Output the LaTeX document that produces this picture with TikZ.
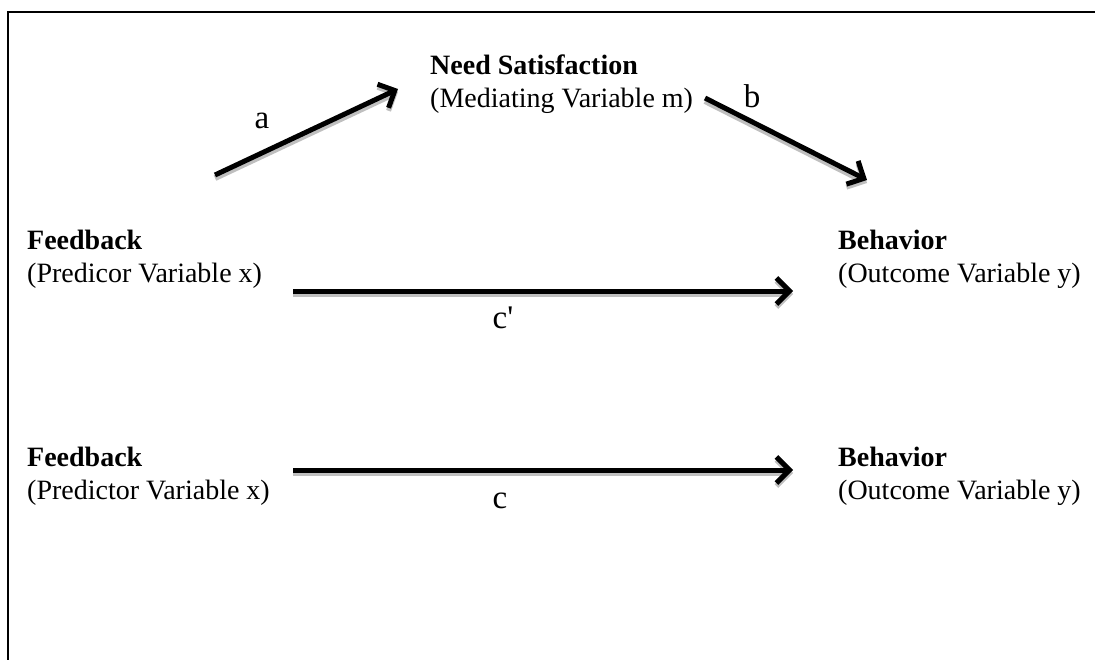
\documentclass[tikz,border=0pt]{standalone}
\usepackage{fontspec}
\setmainfont{Liberation Serif}
\usetikzlibrary{arrows.meta}
\tikzset{
	var/.style={align=left,anchor=base west,inner sep=0pt,font=\fontsize{28}{33}\selectfont},
	lab/.style={anchor=base,inner sep=0pt,font=\fontsize{33}{38}\selectfont},
	arr/.style={line width=5pt,-{Straight Barb[length=13pt,width=26pt,line width=5pt]},
		preaction={draw=black!25,line width=6pt,transform canvas={yshift=-3pt}}}
}

\begin{document}
\begin{tikzpicture}[x=1pt,y=-1pt]
						\clip (0,0) rectangle (1095,659);
						\draw [line width=2.6pt] (8,12) rectangle (1200,800);

						\node (m) [var] at (430,107) {\textbf{Need Satisfaction}\\(Mediating Variable m)};
						\node (x1) [var] at (27,282) {\textbf{Feedback}\\(Predicor Variable x)};
						\node (y1) [var] at (838,282) {\textbf{Behavior}\\(Outcome Variable y)};
						\node (x2) [var] at (27,499) {\textbf{Feedback}\\(Predictor Variable x)};
						\node (y2) [var] at (838,499) {\textbf{Behavior}\\(Outcome Variable y)};

						\coordinate (as) at (215,175);
						\coordinate (ae) at (398,89);
						\coordinate (bs) at (705,98);
						\coordinate (be) at (867,180);
						\coordinate (cps) at (293,291);
						\coordinate (cpe) at (793,291);
						\coordinate (cs) at (293,470);
						\coordinate (ce) at (793,470);

						\draw [arr] (as) -- (ae);
						\draw [arr] (bs) -- (be);
						\draw [arr] (cps) -- (cpe);
						\draw [arr] (cs) -- (ce);

						\node (la) [lab] at (262,128) {a};
						\node (lb) [lab] at (752,107) {b};
						\node (lcp) [lab] at (503,328) {c\textquotesingle};
						\node (lc) [lab] at (500,508) {c};
					\end{tikzpicture}
\end{document}
